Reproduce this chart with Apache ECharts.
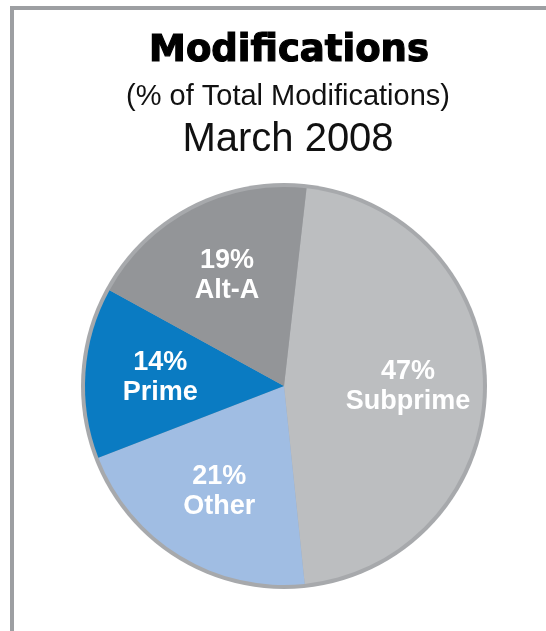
<!DOCTYPE html>
<html>
<head>
<meta charset="utf-8">
<script src="https://cdn.jsdelivr.net/npm/echarts@6/dist/echarts.min.js"></script>
<style>
html,body{margin:0;padding:0;background:#fff;}
#chart{width:546px;height:631px;}
</style>
</head>
<body>
<div id="chart"></div>
<script>
// ---- data ----
const categories = ['Subprime', 'Other', 'Prime', 'Alt-A'];
const shares = [47, 21, 14, 19];
const sliceColors = ['#bcbec0', '#a0bde3', '#0a7bc2', '#939598'];
const titleText = 'Modifications';
const subtitleText = '(% of Total Modifications)';
const dateText = 'March 2008';

const pieData = categories.map((c, i) => ({ name: c, value: shares[i], itemStyle: { color: sliceColors[i] } }));
const labelData = categories.map((c, i) => ({ name: c, value: shares[i] }));

const chart = echarts.init(document.getElementById('chart'), null, { renderer: 'canvas' });
const center = [284, 386];
const startAngle = 83.5;

chart.setOption({
  backgroundColor: '#ffffff',
  animation: false,
  title: [
    { text: titleText, left: 284, top: 28, textAlign: 'center',
      textStyle: { fontFamily: 'DejaVu Sans', fontWeight: 'bold', fontSize: 37, color: '#000',
                   textBorderColor: '#000', textBorderWidth: 1.2 } },
    { text: subtitleText, left: 283, top: 77, textAlign: 'center',
      textStyle: { fontFamily: 'Liberation Sans', fontWeight: 'normal', fontSize: 29, color: '#111' } },
    { text: dateText, left: 283, top: 115, textAlign: 'center',
      textStyle: { fontFamily: 'Liberation Sans', fontWeight: 'normal', fontSize: 40, color: '#111' } }
  ],
  graphic: [
    { type: 'rect', silent: true, z: -10,
      shape: { x: 12, y: 8, width: 700, height: 800 },
      style: { fill: 'none', stroke: '#9d9fa2', lineWidth: 4 } }
  ],
  series: [
    { // outer gray rim
      type: 'pie', silent: true, z: 1,
      center: center, radius: [0, 203],
      label: { show: false }, labelLine: { show: false },
      itemStyle: { color: '#a7a9ac' },
      data: [{ name: 'rim', value: 1 }]
    },
    {
      type: 'pie', silent: true, z: 2,
      center: center, radius: [0, 199],
      startAngle: startAngle, clockwise: true,
      label: { show: false }, labelLine: { show: false },
      itemStyle: { borderWidth: 0 },
      data: pieData
    },
    { // label carrier (transparent)
      type: 'pie', silent: true, z: 3,
      center: center, radius: [0, 242],
      startAngle: startAngle, clockwise: true,
      itemStyle: { color: 'rgba(0,0,0,0)' },
      labelLine: { show: false },
      label: {
        show: true, position: 'inside',
        formatter: p => p.value + '%\n' + p.name,
        color: '#ffffff', fontFamily: 'Liberation Sans', fontWeight: 'bold',
        fontSize: 27, lineHeight: 30, align: 'center'
      },
      data: labelData
    }
  ]
});
</script>
</body>
</html>
